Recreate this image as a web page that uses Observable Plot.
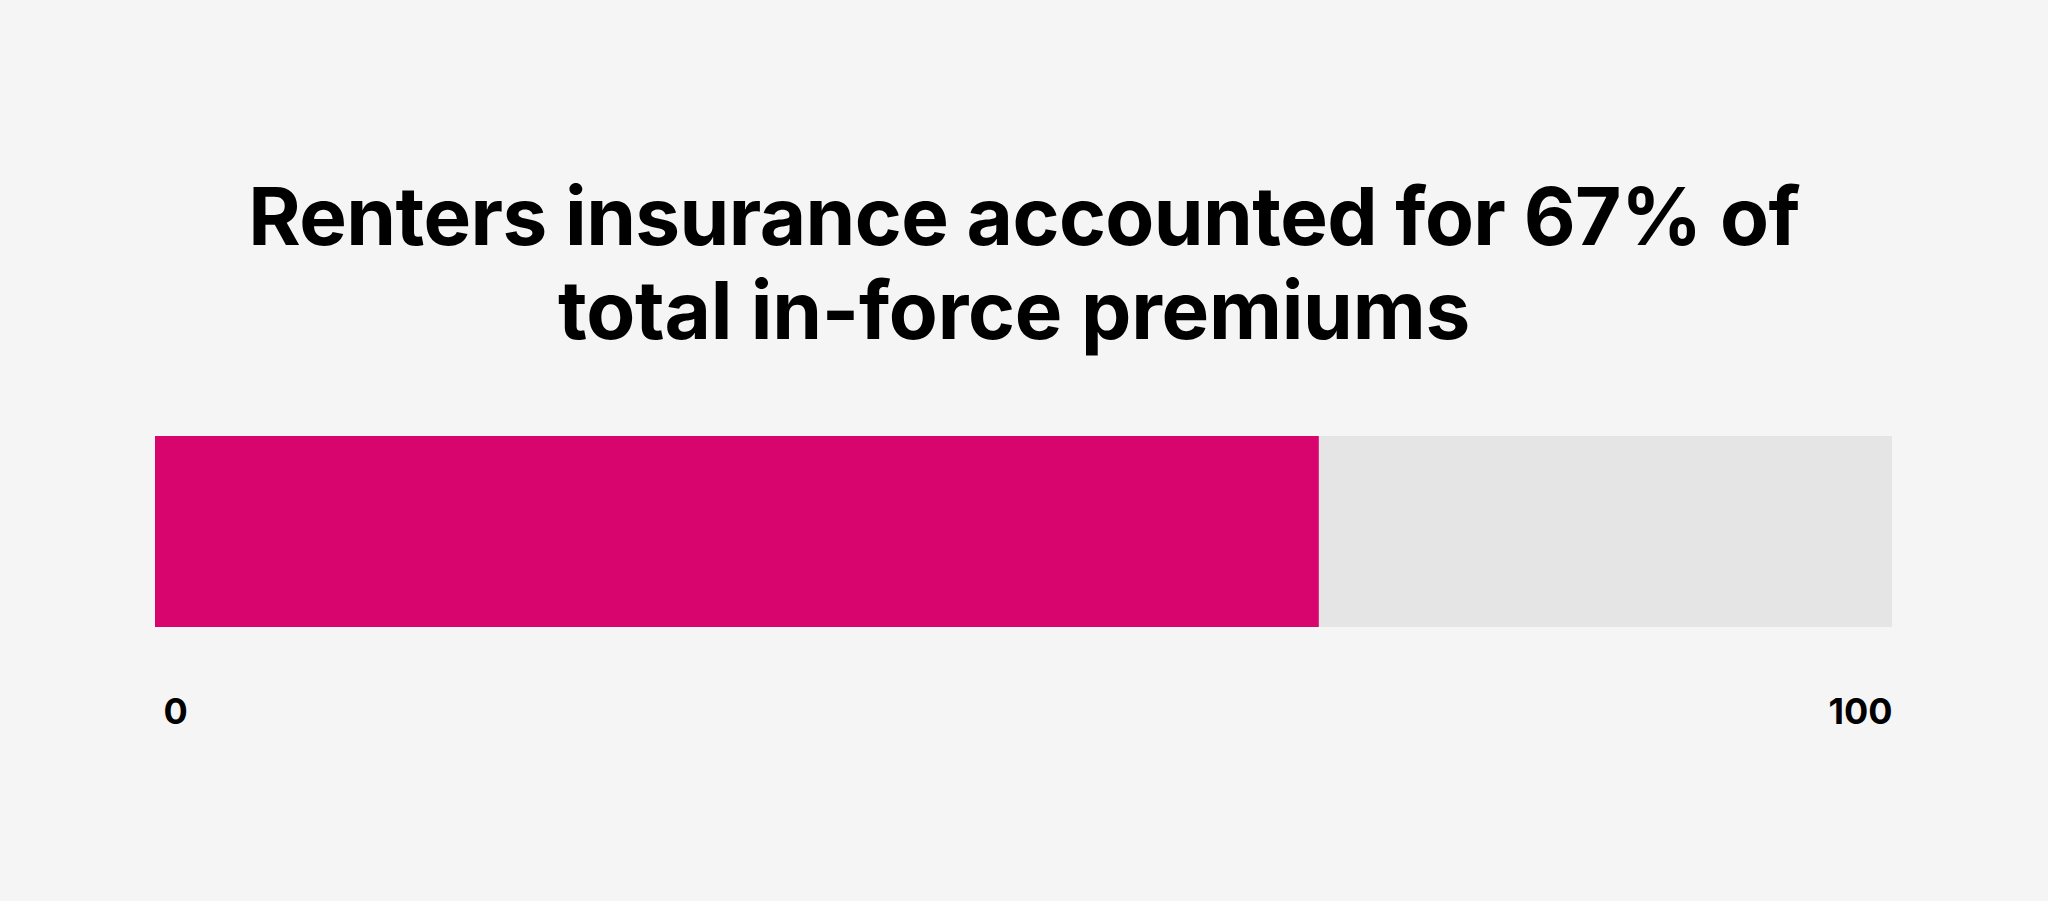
<!DOCTYPE html>
<html>
<head>
<meta charset="utf-8">
<script src="https://cdn.jsdelivr.net/npm/d3@7"></script>
<script src="https://cdn.jsdelivr.net/npm/@observablehq/plot@0.6"></script>
<style>
  html, body { margin: 0; padding: 0; background: #f5f5f5; }
  body { width: 2048px; height: 901px; overflow: hidden; font-family: Inter, "Noto Sans", sans-serif; }
  #title {
    margin: 169px 0 0 0;
    height: 188px;
    font-size: 80px;
    font-weight: 700;
    line-height: 94px;
    color: #000;
    text-align: center;
    letter-spacing: -0.6px;
  }
  #title div { white-space: nowrap; }
  #line2 { padding-right: 20px; letter-spacing: -0.25px; }
  #chart svg { display: block; }
</style>
</head>
<body>
<div id="title">
  <div id="line1">Renters insurance accounted for 67% of</div>
  <div id="line2">total in-force premiums</div>
</div>
<div id="chart"></div>
<script>
// Share of total in-force premiums held by renters insurance
const category = ["Renters insurance"];
const share = [67];
const total = [100];
const tickValues = [0, 100];

const rows = category.map((c, i) => ({category: c, share: share[i], total: total[i]}));

const chart = Plot.plot({
  width: 2048,
  height: 544,
  marginLeft: 155,
  marginRight: 156,
  marginTop: 79,
  marginBottom: 274,
  style: {background: "transparent", fontFamily: "Inter, 'Noto Sans', sans-serif"},
  x: {domain: [0, 100], axis: null},
  y: {axis: null, padding: 0},
  marks: [
    // full-scale track, then the renters share on top
    Plot.barX(rows, {x: "total", y: "category", fill: "#e5e5e5"}),
    Plot.barX(rows, {x: "share", y: "category", fill: "#d8056f"}),
    // scale end labels under the bar
    Plot.text([tickValues[0]], {
      x: d => d, text: d => String(d), frameAnchor: "bottom", lineAnchor: "bottom",
      textAnchor: "start", dx: 8, dy: 96, fontSize: 36, fontWeight: 700, fill: "#000"
    }),
    Plot.text([tickValues[1]], {
      x: d => d, text: d => String(d), frameAnchor: "bottom", lineAnchor: "bottom",
      textAnchor: "end", dx: 0, dy: 96, fontSize: 36, fontWeight: 700, fill: "#000"
    })
  ]
});
document.getElementById("chart").appendChild(chart);
</script>
</body>
</html>
